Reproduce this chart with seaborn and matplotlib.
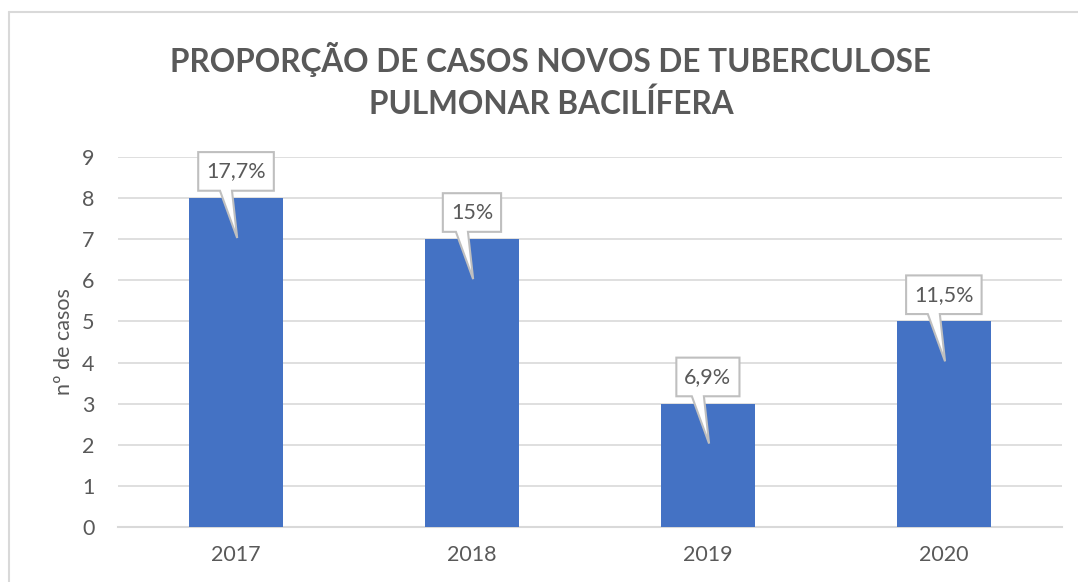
import numpy as np
import pandas as pd
import matplotlib
matplotlib.use("Agg")
import matplotlib.pyplot as plt
from matplotlib.lines import Line2D
from matplotlib.patches import Polygon
import seaborn as sns

# data
anos = ["2017", "2018", "2019", "2020"]
casos = [8, 7, 3, 5]
proporcao = ["17,7%", "15%", "6,9%", "11,5%"]

TITLE = "PROPORÇÃO DE CASOS NOVOS DE TUBERCULOSE\nPULMONAR BACILÍFERA"
BAR_COLOR = "#4472C4"
TXT = "#595959"
GRID = "#d9d9d9"

sns.set_theme(style="white")
plt.rcParams["font.family"] = ["Lato", "DejaVu Sans"]

df = pd.DataFrame({"ano": anos, "casos": casos})

fig = plt.figure(figsize=(10.78, 5.82), dpi=100)
ax = fig.add_axes([0.1095, 0.0945, 0.8755, 0.6357])

sns.barplot(data=df, x="ano", y="casos", color=BAR_COLOR, saturation=1,
            width=0.4, linewidth=0, ax=ax, zorder=3)

ax.set_xlim(-0.5, 3.5)
ax.set_ylim(0, 9)
ax.set_yticks(range(0, 10))
ax.yaxis.grid(True, color=GRID, lw=1.2, zorder=0)
ax.set_axisbelow(True)
for s in ["top", "right", "left"]:
    ax.spines[s].set_visible(False)
ax.spines["bottom"].set_color(GRID)
ax.spines["bottom"].set_linewidth(1.5)
ax.tick_params(axis="both", length=0, labelsize=15.5, labelcolor=TXT)
ax.tick_params(axis="y", pad=17)
ax.tick_params(axis="x", pad=13)
ax.set_xlabel("")
ax.set_ylabel("nº de casos", fontsize=15.5, color=TXT, labelpad=6)

fig.text(0.511, 0.8625, TITLE, ha="center", va="center", fontsize=22.7,
         fontweight="bold", color=TXT, linespacing=1.45)

# callout labels (Excel style: box with a pointed tail down into the bar)
texts = []
for i, (v, lab) in enumerate(zip(casos, proporcao)):
    t = ax.text(i, v + 0.65, lab, ha="center", va="center", fontsize=15.5,
                color=TXT, zorder=6, clip_on=False)
    texts.append(t)

fig.canvas.draw()
inv = ax.transData.inverted()
for i, (v, t) in enumerate(zip(casos, texts)):
    bb = t.get_window_extent()
    (x0, _), (x1, _) = inv.transform([[bb.x0 - 8, 0], [bb.x1 + 8, 0]])
    bot, top = v + 0.18, v + 1.12
    shape = [(x0, bot), (i - 0.068, bot), (i + 0.005, v - 0.97),
             (i - 0.017, bot), (x1, bot), (x1, top), (x0, top)]
    ax.add_patch(Polygon(shape, closed=True, fc="white", ec="#bfbfbf",
                         lw=1.5, zorder=5, clip_on=False))

# chart frame (left and top edges visible in the reference)
fig.add_artist(Line2D([8.5 / 1078, 8.5 / 1078], [0, 1 - 11.5 / 582],
                      color=GRID, lw=1.5))
fig.add_artist(Line2D([8.5 / 1078, 1], [1 - 11.5 / 582, 1 - 11.5 / 582],
                      color=GRID, lw=1.5))

fig.savefig("out.png", dpi=100)
